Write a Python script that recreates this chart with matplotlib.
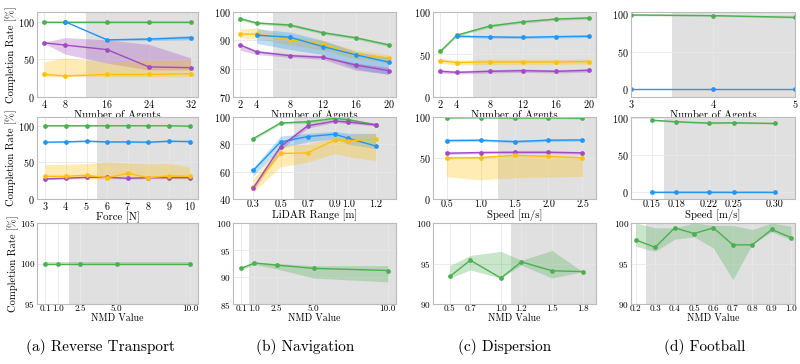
import matplotlib.pyplot as plt

plt.rcParams['font.family'] = 'serif'
plt.rcParams['font.serif'] = ['cmr10']
plt.rcParams['axes.formatter.use_mathtext'] = True
plt.rcParams['axes.unicode_minus'] = False

GREEN = '#4CAF50'
BLUE = '#2196F3'
YELLOW = '#FFC107'
PURPLE = '#A04BC0'

# ---- (a) Reverse Transport ----
ra_agents_x = [4, 8, 16, 24, 32]
ra_agents_green = [100, 100, 100, 100, 100]
ra_agents_blue_x = [8, 16, 24, 32]
ra_agents_blue = [100, 76, 77, 79]
ra_agents_blue_lo = [100, 75, 75, 76]
ra_agents_blue_hi = [100, 77, 79, 82]
ra_agents_purple = [72, 69, 63, 40, 39]
ra_agents_purple_lo = [71, 57, 45, 36, 36]
ra_agents_purple_hi = [73, 79, 76, 70, 52]
ra_agents_yellow = [30, 28, 30, 30, 31]
ra_agents_yellow_lo = [27, 27, 27, 27, 27]
ra_agents_yellow_hi = [47, 52, 46, 49, 49]

ra_force_x = [3, 4, 5, 6, 7, 8, 9, 10]
ra_force_green = [100, 100, 100, 100, 100, 100, 100, 99.5]
ra_force_green_lo = [99.7, 99.7, 99.7, 99.7, 99.7, 99.7, 99.7, 98.5]
ra_force_green_hi = [100, 100, 100, 100, 100, 100, 100, 100]
ra_force_blue = [77.6, 78, 79, 78, 78, 77.6, 79, 78.5]
ra_force_yellow = [31, 31, 32.4, 29.2, 35, 29.2, 31.5, 31]
ra_force_yellow_lo = [27, 27, 27, 27, 27, 27, 27, 27]
ra_force_yellow_hi = [47, 47.5, 48.4, 50.7, 49, 48, 48.4, 44]
ra_force_purple = [27.4, 28.3, 29.7, 29.7, 28.3, 29.2, 29.2, 29.2]

ra_nmd_x = [0.1, 1.0, 2.5, 5.0, 10.0]
ra_nmd_green = [100, 100, 100, 100, 100]

# ---- (b) Navigation ----
nv_agents_x = [2, 4, 8, 12, 16, 20]
nv_agents_green = [97.6, 96.1, 95.4, 92.7, 90.9, 88.4]
nv_agents_yellow = [92.2, 92.2, 90.2, 88.7, 85.0, 83.8]
nv_agents_yellow_lo = [91.0, 90.5, 88.5, 86.5, 83.5, 82.0]
nv_agents_yellow_hi = [94.0, 94.4, 91.5, 90.0, 86.5, 85.0]
nv_agents_blue_x = [4, 8, 12, 16, 20]
nv_agents_blue = [91.8, 91.1, 87.8, 84.9, 82.3]
nv_agents_blue_lo = [88.9, 86.8, 85.0, 80.0, 78.0]
nv_agents_blue_hi = [94.1, 92.9, 90.0, 86.0, 84.0]
nv_agents_purple = [88.3, 85.9, 84.6, 84.0, 81.3, 79.3]
nv_agents_purple_lo = [86.5, 85.0, 84.0, 83.3, 79.5, 78.0]
nv_agents_purple_hi = [88.8, 86.5, 85.2, 84.6, 82.0, 80.5]

nv_lidar_x = [0.3, 0.5, 0.7, 0.9, 1.0, 1.2]
nv_lidar_green = [84.2, 95.6, 96.5, 99.0, 98.0, 94.3]
nv_lidar_purple = [48.1, 78.3, 93.6, 97.0, 96.3, 94.3]
nv_lidar_purple_lo = [46.0, 76.0, 92.0, 96.0, 95.0, 93.5]
nv_lidar_purple_hi = [50.0, 80.0, 95.0, 98.0, 97.5, 95.0]
nv_lidar_blue = [61.0, 81.7, 85.7, 87.4, 84.4, 78.8]
nv_lidar_blue_lo = [57.0, 77.0, 82.0, 84.0, 80.0, 77.0]
nv_lidar_blue_hi = [63.0, 86.0, 88.0, 89.5, 88.0, 88.0]
nv_lidar_yellow = [48.6, 73.3, 73.8, 83.2, 82.7, 83.7]
nv_lidar_yellow_lo = [45.0, 63.5, 67.0, 73.3, 71.0, 68.0]
nv_lidar_yellow_hi = [55.0, 79.5, 80.0, 85.0, 87.0, 88.0]

nv_nmd_x = [0.1, 1.0, 2.5, 5.0, 10.0]
nv_nmd_green = [91.6, 92.6, 92.2, 91.6, 91.2]
nv_nmd_green_lo = [91.3, 92.3, 91.5, 89.8, 89.1]
nv_nmd_green_hi = [91.8, 92.7, 92.5, 92.1, 92.1]

# ---- (c) Dispersion ----
ds_agents_x = [2, 4, 8, 12, 16, 20]
ds_agents_green = [53.7, 72.7, 83.5, 88.4, 91.7, 93.0]
ds_agents_blue_x = [4, 8, 12, 16, 20]
ds_agents_blue = [71.5, 70.7, 70.2, 71.0, 71.5]
ds_agents_yellow = [42.6, 40.5, 41.3, 41.3, 41.3, 41.7]
ds_agents_purple = [30.2, 29.0, 30.2, 31.0, 30.2, 31.4]

ds_speed_x = [0.5, 1.0, 1.5, 2.0, 2.5]
ds_speed_green = [99.0, 99.3, 98.8, 99.0, 98.5]
ds_speed_blue = [71.3, 71.7, 70.0, 71.7, 72.0]
ds_speed_purple = [55.8, 56.7, 57.0, 57.0, 56.3]
ds_speed_yellow = [50.0, 50.4, 53.3, 52.0, 50.0]
ds_speed_yellow_lo = [27.0, 23.3, 26.0, 26.7, 27.5]
ds_speed_yellow_hi = [52.0, 52.5, 54.5, 54.0, 52.0]

ds_nmd_x = [0.5, 0.7, 1.0, 1.2, 1.5, 1.8]
ds_nmd_green = [93.4, 95.4, 93.2, 95.2, 94.1, 94.0]
ds_nmd_green_lo = [93.2, 94.2, 93.2, 94.8, 93.2, 94.0]
ds_nmd_green_hi = [94.75, 96.0, 96.5, 95.4, 96.6, 94.0]

# ---- (d) Football ----
fb_agents_x = [3, 4, 5]
fb_agents_green = [99.0, 98.2, 95.9]
fb_agents_blue = [0, 0, 0]

fb_speed_x = [0.15, 0.18, 0.22, 0.25, 0.30]
fb_speed_green = [97.7, 95.5, 93.7, 94.1, 93.2]
fb_speed_blue = [0, 0, 0, 0, 0]

fb_nmd_x = [0.2, 0.3, 0.4, 0.5, 0.6, 0.7, 0.8, 0.9, 1.0]
fb_nmd_green = [97.9, 97.0, 99.4, 98.7, 99.4, 97.3, 97.3, 99.2, 98.2]
fb_nmd_green_lo = [97.1, 96.5, 98.0, 98.3, 96.9, 93.0, 97.4, 98.9, 97.9]
fb_nmd_green_hi = [100, 99.4, 99.4, 100, 99.7, 99.7, 99.2, 100, 99.6]

captions = ['(a) Reverse Transport', '(b) Navigation', '(c) Dispersion', '(d) Football']


def band(y, d):
    return [v - d for v in y], [v + d for v in y]


def panel(ax, series, span, xlim, ylim, xticks, yticks, xlabel, fs=7.3, xticklabels=None):
    ax.axvspan(span, xlim[1], color='#808080', alpha=0.24, lw=0, zorder=0)
    for x, y, lo, hi, c in series:
        if lo is not None:
            ax.fill_between(x, lo, hi, color=c, alpha=0.3, lw=0, zorder=1)
        ax.plot(x, y, color=c, lw=1.0, marker='o', ms=2.4, zorder=2)
    ax.set_xlim(xlim)
    ax.set_ylim(ylim)
    ax.set_xticks(xticks)
    if xticklabels is not None:
        ax.set_xticklabels(xticklabels)
    ax.set_yticks(yticks)
    ax.set_xlabel(xlabel, fontsize=fs + 0.5, labelpad=0)
    ax.tick_params(axis='x', length=0, labelsize=fs, pad=0.5)
    ax.tick_params(axis='y', length=0, labelsize=fs, pad=1.5)
    ax.grid(True, color='#e8e8e8', lw=0.6)
    ax.set_axisbelow(True)
    for s in ax.spines.values():
        s.set_color('#bbbbbb')
        s.set_linewidth(0.8)


fig = plt.figure(figsize=(8, 3.64), dpi=100)
cols = [(37, 198), (233, 396), (433, 596), (631, 795)]
rows = [(12, 97), (117, 199), (223, 304)]
axes = []
for r in rows:
    line = []
    for c in cols:
        line.append(fig.add_axes([c[0] / 800, 1 - r[1] / 364, (c[1] - c[0]) / 800, (r[1] - r[0]) / 364]))
    axes.append(line)

# row 1: number of agents
panel(axes[0][0], [
    (ra_agents_x, ra_agents_green, *band(ra_agents_green, 0.4), GREEN),
    (ra_agents_blue_x, ra_agents_blue, ra_agents_blue_lo, ra_agents_blue_hi, BLUE),
    (ra_agents_x, ra_agents_purple, ra_agents_purple_lo, ra_agents_purple_hi, PURPLE),
    (ra_agents_x, ra_agents_yellow, ra_agents_yellow_lo, ra_agents_yellow_hi, YELLOW),
], 12, (2.6, 33.4), (0, 113), [4, 8, 16, 24, 32], [0, 50, 100], 'Number of Agents')

panel(axes[0][1], [
    (nv_agents_x, nv_agents_green, *band(nv_agents_green, 0.5), GREEN),
    (nv_agents_x, nv_agents_yellow, nv_agents_yellow_lo, nv_agents_yellow_hi, YELLOW),
    (nv_agents_blue_x, nv_agents_blue, nv_agents_blue_lo, nv_agents_blue_hi, BLUE),
    (nv_agents_x, nv_agents_purple, nv_agents_purple_lo, nv_agents_purple_hi, PURPLE),
], 6, (1.1, 20.9), (70, 100), [2, 4, 8, 12, 16, 20], [70, 80, 90, 100], 'Number of Agents')

panel(axes[0][2], [
    (ds_agents_x, ds_agents_green, *band(ds_agents_green, 1.5), GREEN),
    (ds_agents_blue_x, ds_agents_blue, *band(ds_agents_blue, 1.5), BLUE),
    (ds_agents_x, ds_agents_yellow, *band(ds_agents_yellow, 3), YELLOW),
    (ds_agents_x, ds_agents_purple, *band(ds_agents_purple, 2), PURPLE),
], 6, (1.1, 20.9), (0, 100), [2, 4, 8, 12, 16, 20], [0, 50, 100], 'Number of Agents')

panel(axes[0][3], [
    (fb_agents_x, fb_agents_green, *band(fb_agents_green, 1.0), GREEN),
    (fb_agents_x, fb_agents_blue, *band(fb_agents_blue, 0.5), BLUE),
], 3.5, (3, 5), (-10, 103), [3, 4, 5], [0, 50, 100], 'Number of Agents')

# row 2: force / lidar / speed
panel(axes[1][0], [
    (ra_force_x, ra_force_green, ra_force_green_lo, ra_force_green_hi, GREEN),
    (ra_force_x, ra_force_blue, *band(ra_force_blue, 1.0), BLUE),
    (ra_force_x, ra_force_purple, *band(ra_force_purple, 1.0), PURPLE),
    (ra_force_x, ra_force_yellow, ra_force_yellow_lo, ra_force_yellow_hi, YELLOW),
], 5.5, (2.6, 10.4), (0, 112), ra_force_x, [0, 50, 100], 'Force [N]')

panel(axes[1][1], [
    (nv_lidar_x, nv_lidar_green, *band(nv_lidar_green, 1.0), GREEN),
    (nv_lidar_x, nv_lidar_blue, nv_lidar_blue_lo, nv_lidar_blue_hi, BLUE),
    (nv_lidar_x, nv_lidar_yellow, nv_lidar_yellow_lo, nv_lidar_yellow_hi, YELLOW),
    (nv_lidar_x, nv_lidar_purple, nv_lidar_purple_lo, nv_lidar_purple_hi, PURPLE),
], 0.6, (0.15, 1.35), (40, 100), nv_lidar_x, [40, 60, 80, 100], 'LiDAR Range [m]',
    xticklabels=['0.3', '0.5', '0.7', '0.9', '1.0', '1.2'])

panel(axes[1][2], [
    (ds_speed_x, ds_speed_green, *band(ds_speed_green, 1.0), GREEN),
    (ds_speed_x, ds_speed_blue, *band(ds_speed_blue, 1.5), BLUE),
    (ds_speed_x, ds_speed_purple, *band(ds_speed_purple, 1.5), PURPLE),
    (ds_speed_x, ds_speed_yellow, ds_speed_yellow_lo, ds_speed_yellow_hi, YELLOW),
], 1.25, (0.3, 2.7), (0, 100), ds_speed_x, [0, 50, 100], 'Speed [m/s]',
    xticklabels=['0.5', '1.0', '1.5', '2.0', '2.5'])

panel(axes[1][3], [
    (fb_speed_x, fb_speed_green, *band(fb_speed_green, 1.0), GREEN),
    (fb_speed_x, fb_speed_blue, *band(fb_speed_blue, 0.5), BLUE),
], 0.165, (0.125, 0.325), (-10, 102), fb_speed_x, [0, 50, 100], 'Speed [m/s]',
    xticklabels=['0.15', '0.18', '0.22', '0.25', '0.30'])

# row 3: NMD value
panel(axes[2][0], [
    (ra_nmd_x, ra_nmd_green, *band(ra_nmd_green, 0.15), GREEN),
], 1.75, (-0.45, 10.55), (95, 105), ra_nmd_x, [95, 100, 105], 'NMD Value', fs=6.6,
    xticklabels=['0.1', '1.0', '2.5', '5.0', '10.0'])

panel(axes[2][1], [
    (nv_nmd_x, nv_nmd_green, nv_nmd_green_lo, nv_nmd_green_hi, GREEN),
], 0.65, (-0.45, 10.55), (85, 100), nv_nmd_x, [85, 90, 95, 100], 'NMD Value', fs=6.6,
    xticklabels=['0.1', '1.0', '2.5', '5.0', '10.0'])

panel(axes[2][2], [
    (ds_nmd_x, ds_nmd_green, ds_nmd_green_lo, ds_nmd_green_hi, GREEN),
], 1.1, (0.335, 1.93), (90, 100), ds_nmd_x, [90, 95, 100], 'NMD Value', fs=6.6,
    xticklabels=['0.5', '0.7', '1.0', '1.2', '1.5', '1.8'])

panel(axes[2][3], [
    (fb_nmd_x, fb_nmd_green, fb_nmd_green_lo, fb_nmd_green_hi, GREEN),
], 0.25, (0.175, 1.02), (90, 100), fb_nmd_x, [90, 95, 100], 'NMD Value', fs=6.6,
    xticklabels=['0.2', '0.3', '0.4', '0.5', '0.6', '0.7', '0.8', '0.9', '1.0'])

for row in axes:
    row[0].set_ylabel('Completion Rate [%]', fontsize=7.6, labelpad=0.5)

for i, cap in enumerate(captions):
    fig.text((100 + 200 * i + (5 if i else 0)) / 800, 1 - 347 / 364, cap,
             ha='center', va='center', fontsize=11)

fig.savefig('out.png', dpi=100)
